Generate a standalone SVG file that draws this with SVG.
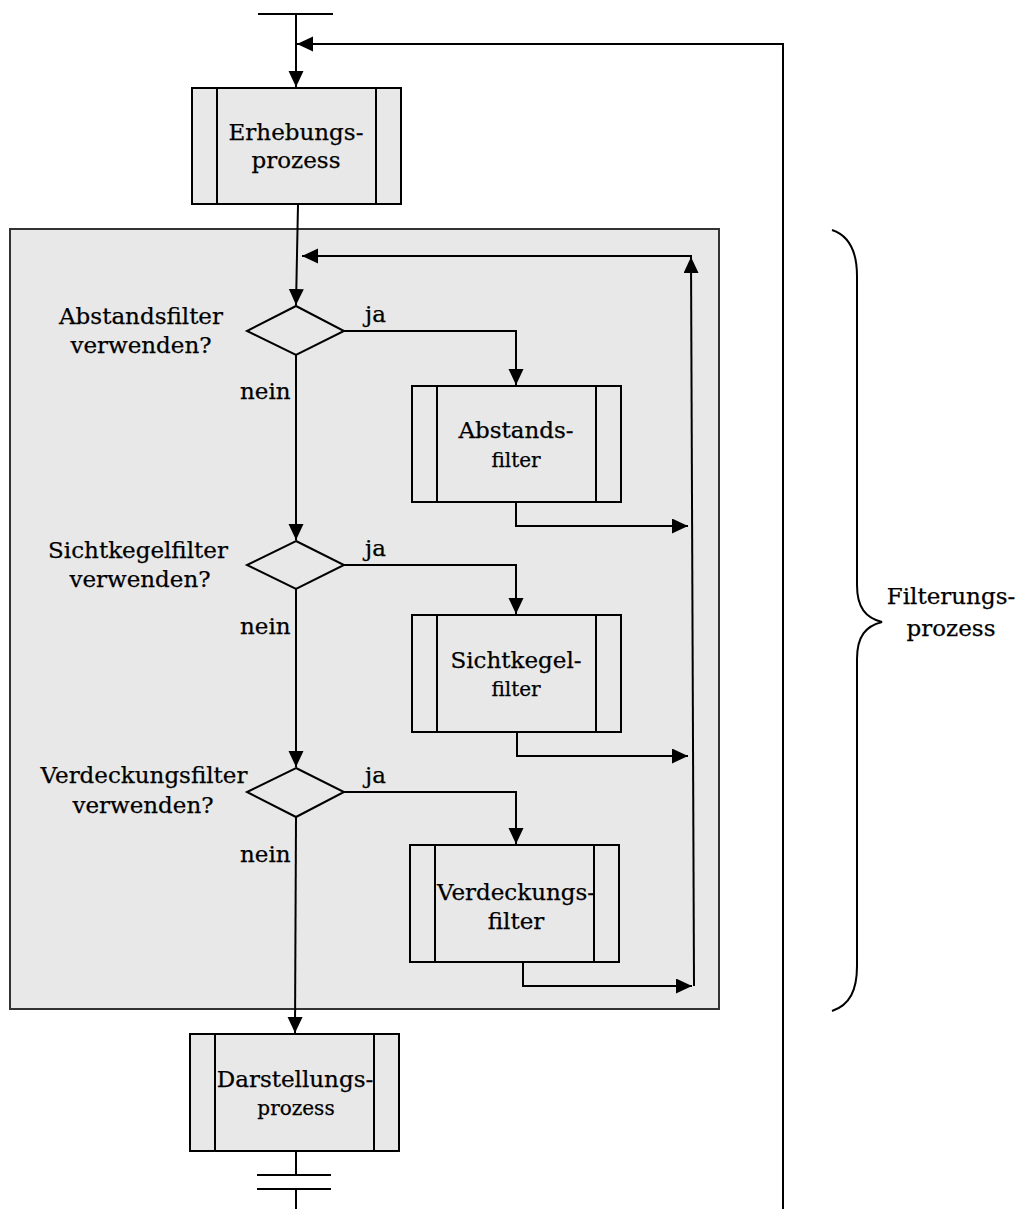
<svg xmlns="http://www.w3.org/2000/svg" width="1019" height="1209" viewBox="0 0 1019 1209">
  <style>
    .panel { fill: #e8e8e8; stroke: #333; stroke-width: 2; }
    .box { fill: #e8e8e8; stroke: #000; stroke-width: 2; }
    .rail { fill: none; stroke: #000; stroke-width: 2; }
    .dec { fill: #e8e8e8; stroke: #000; stroke-width: 2; }
    .wire { fill: none; stroke: #000; stroke-width: 2; }
    .lbl { font-family: "DejaVu Serif", "Liberation Serif", serif; font-size: 23px; fill: #000; stroke: #000; stroke-width: 0.25; }
    .sm { font-size: 20px; }
    .mid { text-anchor: middle; }
  </style>
  <defs>
    <marker id="arrow" markerUnits="userSpaceOnUse" markerWidth="17" markerHeight="17" viewBox="0 0 17 17" refX="16" refY="7.5" orient="auto">
      <path d="M0,0 L16,7.5 L0,15 z" fill="#000"/>
    </marker>
  </defs>

  <rect x="0" y="0" width="1019" height="1209" fill="#fff"/>

  <!-- filtering stage background -->
  <rect id="filter-stage" class="panel" x="10" y="229" width="709" height="780"/>

  <!-- connectors -->
  <g id="connectors">
    <!-- start bar and entry -->
    <line class="wire" x1="258" y1="14" x2="333" y2="14"/>
    <line class="wire" x1="296" y1="14" x2="296" y2="87" marker-end="url(#arrow)"/>
    <!-- outer loop back to the start -->
    <polyline class="wire" points="783,1209 783,44 297,44" marker-end="url(#arrow)"/>
    <!-- into the first decision -->
    <line class="wire" x1="298" y1="205" x2="296" y2="305" marker-end="url(#arrow)"/>
    <!-- inner loop -->
    <polyline class="wire" points="691,258 691,256 302,256" marker-end="url(#arrow)"/>
    <line class="wire" x1="694" y1="986" x2="691" y2="257" marker-end="url(#arrow)"/>

    <!-- decision 1 -->
    <polyline class="wire" points="344,331 516,331 516,385" marker-end="url(#arrow)"/>
    <line class="wire" x1="296" y1="355" x2="296" y2="540" marker-end="url(#arrow)"/>
    <polyline class="wire" points="516,502 516,526 688,526" marker-end="url(#arrow)"/>

    <!-- decision 2 -->
    <polyline class="wire" points="344,565 516,565 516,614" marker-end="url(#arrow)"/>
    <line class="wire" x1="296" y1="589" x2="296" y2="767" marker-end="url(#arrow)"/>
    <polyline class="wire" points="517,732 517,756 688,756" marker-end="url(#arrow)"/>

    <!-- decision 3 -->
    <polyline class="wire" points="344,792 516,792 516,844" marker-end="url(#arrow)"/>
    <line class="wire" x1="296" y1="817" x2="295" y2="1033" marker-end="url(#arrow)"/>
    <polyline class="wire" points="523,962 523,986 692,986" marker-end="url(#arrow)"/>

    <!-- end bars -->
    <line class="wire" x1="296" y1="1151" x2="296" y2="1175"/>
    <line class="wire" x1="257" y1="1175" x2="331" y2="1175"/>
    <line class="wire" x1="257" y1="1189" x2="331" y2="1189"/>
    <line class="wire" x1="296" y1="1189" x2="296" y2="1209"/>
  </g>

  <!-- processes -->
  <g id="erhebungsprozess">
    <rect class="box" x="192" y="88" width="209" height="116"/>
    <line class="rail" x1="217" y1="88" x2="217" y2="204"/>
    <line class="rail" x1="376" y1="88" x2="376" y2="204"/>
    <text class="lbl mid" x="296" y="140">Erhebungs-</text>
    <text class="lbl mid" x="296" y="168">prozess</text>
  </g>

  <g id="abstandsfilter">
    <rect class="box" x="412" y="386" width="209" height="116"/>
    <line class="rail" x1="437" y1="386" x2="437" y2="502"/>
    <line class="rail" x1="596" y1="386" x2="596" y2="502"/>
    <text class="lbl mid" x="516" y="438">Abstands-</text>
    <text class="lbl sm mid" x="516" y="467">filter</text>
  </g>

  <g id="sichtkegelfilter">
    <rect class="box" x="412" y="615" width="209" height="117"/>
    <line class="rail" x1="437" y1="615" x2="437" y2="732"/>
    <line class="rail" x1="596" y1="615" x2="596" y2="732"/>
    <text class="lbl mid" x="516" y="668">Sichtkegel-</text>
    <text class="lbl sm mid" x="516" y="696">filter</text>
  </g>

  <g id="verdeckungsfilter">
    <rect class="box" x="410" y="845" width="209" height="117"/>
    <line class="rail" x1="435" y1="845" x2="435" y2="962"/>
    <line class="rail" x1="594" y1="845" x2="594" y2="962"/>
    <text class="lbl mid" x="516" y="900">Verdeckungs-</text>
    <text class="lbl mid" x="516" y="929">filter</text>
  </g>

  <g id="darstellungsprozess">
    <rect class="box" x="190" y="1034" width="209" height="117"/>
    <line class="rail" x1="215" y1="1034" x2="215" y2="1151"/>
    <line class="rail" x1="374" y1="1034" x2="374" y2="1151"/>
    <text class="lbl mid" x="295" y="1087">Darstellungs-</text>
    <text class="lbl sm mid" x="296" y="1115">prozess</text>
  </g>

  <!-- decisions -->
  <g id="abstand-decision">
    <polygon class="dec" points="296,306 344,331 296,355 247,331"/>
    <text class="lbl mid" x="141" y="324">Abstandsfilter</text>
    <text class="lbl mid" x="141" y="353">verwenden?</text>
    <text class="lbl" x="365" y="322">ja</text>
    <text class="lbl" x="240" y="399">nein</text>
  </g>

  <g id="sichtkegel-decision">
    <polygon class="dec" points="296,541 344,565 296,589 247,565"/>
    <text class="lbl mid" x="138" y="558">Sichtkegelfilter</text>
    <text class="lbl mid" x="140" y="587">verwenden?</text>
    <text class="lbl" x="365" y="556">ja</text>
    <text class="lbl" x="240" y="634">nein</text>
  </g>

  <g id="verdeckung-decision">
    <polygon class="dec" points="296,768 344,792 296,817 247,792"/>
    <text class="lbl mid" x="144" y="783">Verdeckungsfilter</text>
    <text class="lbl mid" x="143" y="813">verwenden?</text>
    <text class="lbl" x="365" y="783">ja</text>
    <text class="lbl" x="240" y="862">nein</text>
  </g>

  <!-- brace marking the filtering stage -->
  <g id="filterungsprozess">
    <path class="wire" d="M832,230 C850,236 857,252 857,276 L857,585 C857,608 866,618 882,622 C866,626 857,636 857,659 L857,966 C857,990 850,1005 832,1011"/>
    <text class="lbl mid" x="951" y="604">Filterungs-</text>
    <text class="lbl mid" x="951" y="636">prozess</text>
  </g>
</svg>
